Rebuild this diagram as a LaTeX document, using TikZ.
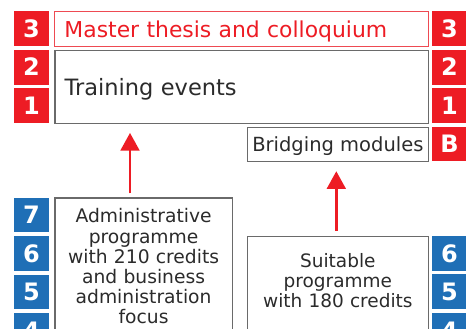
\documentclass[tikz,border=0pt]{standalone}
\usepackage{fontspec}
\setmainfont{DejaVu Sans}
\usetikzlibrary{arrows.meta}
\definecolor{ured}{HTML}{ED1C24}
\definecolor{ublue}{HTML}{1F6FB6}
\definecolor{ugray}{HTML}{6A6A6A}
\definecolor{utext}{HTML}{2B2B2B}
\definecolor{upink}{HTML}{EE4A52}
\begin{document}
\begin{tikzpicture}[x=1pt,y=-1pt,
  sq/.style={anchor=north west, minimum width=34.7pt, minimum height=34.7pt, inner sep=0pt, text=white, font=\bfseries\fontsize{24}{24}\selectfont, text height=17.5pt, text depth=0pt},
  redsq/.style={sq, fill=ured},
  bluesq/.style={sq, fill=ublue},
  box/.style={anchor=north west, draw=ugray, line width=1.2pt, text=utext, inner sep=0pt},
  arr/.style={draw=ured, line width=2.7pt, -{Triangle[width=18.6pt,length=17.6pt]}},
]
\useasboundingbox (0,0) rectangle (466,329);
\clip (0,0) rectangle (466,329);

% boxes
\node[box, draw=upink, line width=0.9pt, text=ured, minimum height=34.7pt, text width=353.8pt, inner xsep=9.7pt, align=left, font=\fontsize{21.9}{24}\selectfont, text height=17.9pt, text depth=0pt] (master) at (54.3,11) {Master thesis and colloquium};
\node[box, minimum height=72.7pt, text width=353.8pt, inner xsep=9.7pt, align=left, font=\fontsize{22.5}{26}\selectfont, text height=17.3pt, text depth=0pt] (train) at (54.3,50) {Training events};
\node[box, minimum width=180.5pt, minimum height=34.3pt, font=\fontsize{19.5}{22}\selectfont, text height=14.3pt, text depth=0pt] (bridge) at (247,126.7) {Bridging modules};
\node[box, text width=177.4pt, align=center, inner xsep=0pt, inner ysep=10.8pt, font=\fontsize{18.7}{20.2}\selectfont, text depth=150pt] (admin) at (54.3,197.3) {Administrative\\programme\\with 210 credits\\and business\\administration\\focus};
\node[box, text width=180.5pt, align=center, inner xsep=0pt, inner ysep=16.9pt, font=\fontsize{18.5}{20}\selectfont, text depth=150pt] (suit) at (247,235.7) {Suitable\\programme\\with 180 credits};

% number squares
\node[redsq] (l3) at (14,11) {3};
\node[redsq] (l2) at (14,49.7) {2};
\node[redsq] (l1) at (14,88) {1};
\node[redsq] (r3) at (432,11) {3};
\node[redsq] (r2) at (432,49.7) {2};
\node[redsq] (r1) at (432,88) {1};
\node[redsq] (rb) at (432,126.5) {B};
\node[bluesq] (l7) at (14,197.3) {7};
\node[bluesq] (l6) at (14,235.8) {6};
\node[bluesq] (l5) at (14,274.3) {5};
\node[bluesq] (l4) at (14,312.8) {4};
\node[bluesq] (r6) at (432,235.7) {6};
\node[bluesq] (r5) at (432,274.2) {5};
\node[bluesq] (r4) at (432,312.7) {4};

% arrows
\coordinate (ax1) at (130,0);
\coordinate (ax2) at (336.3,0);
\draw[arr, shorten <=4pt, shorten >=9pt] (admin.north -| ax1) -- (train.south -| ax1);
\draw[arr, shorten <=5pt, shorten >=9pt] (suit.north -| ax2) -- (bridge.south -| ax2);
\end{tikzpicture}
\end{document}
